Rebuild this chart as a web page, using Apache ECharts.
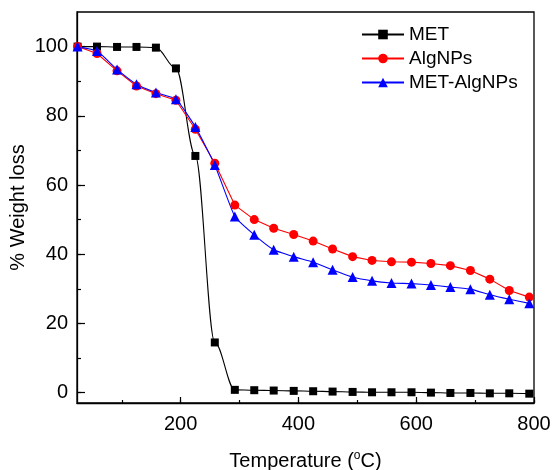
<!DOCTYPE html>
<html>
<head>
<meta charset="utf-8">
<script src="https://cdn.jsdelivr.net/npm/echarts@6/dist/echarts.min.js"></script>
<style>html,body{margin:0;padding:0;background:#fff}#c{width:553px;height:470px}</style>
</head>
<body>
<div id="c"></div>
<script>
var temperature = [25, 58, 92, 125, 158, 192, 225, 258, 292, 325, 358, 392, 425, 458, 492, 525, 558, 592, 625, 658, 692, 725, 758, 792];
var MET = [100, 100, 99.9, 99.9, 99.7, 93.7, 68.4, 14.5, 0.8, 0.7, 0.6, 0.5, 0.4, 0.3, 0.2, 0.1, 0.1, 0.1, 0, -0.1, -0.1, -0.2, -0.2, -0.3];
var AlgNPs = [100, 98.0, 93.0, 88.6, 86.4, 84.5, 76.1, 66.3, 54.2, 50.0, 47.5, 45.7, 43.8, 41.5, 39.3, 38.2, 37.8, 37.7, 37.3, 36.7, 35.3, 32.8, 29.5, 27.6];
var MET_AlgNPs = [100, 98.7, 93.4, 89.1, 86.7, 84.8, 76.8, 65.8, 50.9, 45.6, 41.3, 39.3, 37.7, 35.5, 33.4, 32.3, 31.7, 31.5, 31.1, 30.5, 29.9, 28.3, 27.0, 25.8];
var xMajor = [200, 400, 600, 800];
var xMinor = [100, 200, 300, 400, 500, 600, 700, 800];
var yMajor = [0, 20, 40, 60, 80, 100];
var yMinor = [0, 10, 20, 30, 40, 50, 60, 70, 80, 90, 100];

function pairs(xs, ys) { return xs.map(function (x, i) { return [x, ys[i]]; }); }

var FONT = 'Arial, "Liberation Sans", sans-serif';
var chart = echarts.init(document.getElementById('c'), null, {renderer: 'canvas'});
chart.setOption({
  animation: false,
  backgroundColor: '#fff',
  textStyle: {fontFamily: FONT},
  grid: {left: 77, right: 19, top: 12, bottom: 67, containLabel: false, outerBoundsMode: 'none', show: true, borderColor: '#000', borderWidth: 1.3, backgroundColor: 'transparent'},
  legend: {
    orient: 'vertical', left: 361, top: 25, padding: 0, itemWidth: 42, itemHeight: 12, itemGap: 5,
    textStyle: {fontFamily: FONT, fontSize: 19, color: '#000', lineHeight: 19},
    data: ['MET', 'AlgNPs', 'MET-AlgNPs']
  },
  xAxis: [{
    type: 'value', min: 24, max: 800,
    name: '{a|Temperature (}{s|o}{a|C)}', nameLocation: 'middle', nameGap: 47, nameMoveOverlap: false,
    nameTextStyle: {rich: {a: {fontFamily: FONT, fontSize: 20, color: '#000'}, s: {fontFamily: FONT, fontSize: 12, color: '#000', padding: [0, 0, 10, 0]}}},
    axisLine: {show: true, onZero: false, lineStyle: {color: '#000', width: 1.3}},
    axisTick: {show: true, inside: true, length: 3, customValues: xMinor, lineStyle: {color: '#000', width: 1.2}},
    axisLabel: {customValues: xMajor, fontFamily: FONT, fontSize: 20, color: '#000', margin: 11},
    splitLine: {show: false}
  }, {
    type: 'value', min: 24, max: 800, position: 'bottom',
    axisLine: {show: false, onZero: false},
    axisTick: {show: true, inside: true, length: 6, customValues: xMajor, lineStyle: {color: '#000', width: 1.2}},
    axisLabel: {show: false}, splitLine: {show: false}
  }],
  yAxis: [{
    type: 'value', min: -3, max: 110,
    name: '% Weight loss', nameLocation: 'middle', nameGap: 49, nameMoveOverlap: false,
    nameTextStyle: {fontFamily: FONT, fontSize: 20, color: '#000'},
    axisLine: {show: true, onZero: false, lineStyle: {color: '#000', width: 1.3}},
    axisTick: {show: true, inside: true, length: 4, customValues: yMinor, lineStyle: {color: '#000', width: 1.2}},
    axisLabel: {customValues: yMajor, fontFamily: FONT, fontSize: 20, color: '#000', margin: 9},
    splitLine: {show: false}
  }, {
    type: 'value', min: -3, max: 110, position: 'left',
    axisLine: {show: false, onZero: false},
    axisTick: {show: true, inside: true, length: 8, customValues: yMajor, lineStyle: {color: '#000', width: 1.2}},
    axisLabel: {show: false}, splitLine: {show: false}
  }],
  series: [{
    name: 'MET', type: 'line', data: pairs(temperature, MET),
    symbol: 'rect', symbolSize: 8, smooth: 0.35, smoothMonotone: 'x',
    itemStyle: {color: '#000'}, lineStyle: {color: '#000', width: 1.1}
  }, {
    name: 'AlgNPs', type: 'line', data: pairs(temperature, AlgNPs),
    symbol: 'circle', symbolSize: 9, smooth: false,
    itemStyle: {color: '#ff0000'}, lineStyle: {color: '#ff0000', width: 1.1}
  }, {
    name: 'MET-AlgNPs', type: 'line', data: pairs(temperature, MET_AlgNPs),
    symbol: 'triangle', symbolSize: 10, smooth: 0.15,
    itemStyle: {color: '#0000ff'}, lineStyle: {color: '#0000ff', width: 1.1}
  }]
});
</script>
</body>
</html>
